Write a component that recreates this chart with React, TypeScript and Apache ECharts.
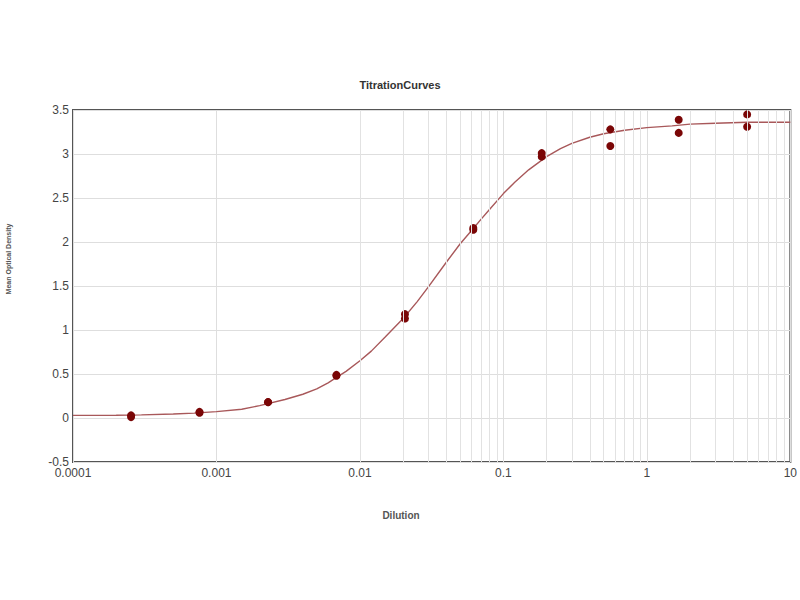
import React, { useEffect, useRef } from "react";
import * as echarts from "echarts";

// Measured replicate points (dilution vs mean optical density)
const dilutions = [0.000254, 0.000762, 0.00229, 0.00686, 0.0206, 0.0617, 0.185, 0.556, 1.667, 5];
const replicateA = [0.01, 0.06, 0.18, 0.48, 1.13, 2.14, 2.97, 3.09, 3.24, 3.31];
const replicateB = [0.03, 0.07, 0.18, 0.49, 1.18, 2.16, 3.01, 3.28, 3.39, 3.45];

// Fitted titration curve
const curveX = [
  0.0001, 0.0002, 0.0003, 0.0005, 0.0007, 0.001, 0.0015, 0.002, 0.003, 0.004, 0.005, 0.006, 0.007, 0.008,
  0.01, 0.012, 0.015, 0.02, 0.025, 0.03, 0.04, 0.05, 0.06, 0.07, 0.08, 0.1, 0.12, 0.15, 0.2, 0.25, 0.3,
  0.4, 0.5, 0.7, 1, 1.5, 2, 3, 5, 10,
];
const curveY = [
  0.03, 0.032, 0.035, 0.045, 0.055, 0.072, 0.1, 0.14, 0.21, 0.27, 0.33, 0.4, 0.47, 0.53,
  0.65, 0.76, 0.92, 1.13, 1.32, 1.49, 1.77, 1.98, 2.13, 2.26, 2.37, 2.55, 2.68, 2.82, 2.97, 3.06, 3.12,
  3.19, 3.23, 3.27, 3.3, 3.32, 3.34, 3.35, 3.36, 3.36,
];

const xTickLabels = ["0.0001", "0.001", "0.01", "0.1", "1", "10"];
const decades = [0.0001, 0.001, 0.01, 0.1, 1];
const minorMultipliers = [2, 3, 4, 5, 6, 7, 8, 9];

const titleText = "TitrationCurves";
const xName = "Dilution";
const yName = "Mean Optical Density";

export default function App() {
  const ref = useRef<HTMLDivElement>(null);
  useEffect(() => {
    if (!ref.current) return;
    const chart = echarts.init(ref.current, undefined, { renderer: "svg" });
    const minorTicks: number[] = [];
    decades.forEach((d) => minorMultipliers.forEach((m) => minorTicks.push(d * m)));
    const font = "'Liberation Sans', Arial, sans-serif";
    chart.setOption({
      animation: false,
      backgroundColor: "#ffffff",
      title: {
        text: titleText,
        left: "center",
        top: 79,
        padding: 0,
        textStyle: { fontSize: 11, fontWeight: "bold", color: "#333", fontFamily: font },
      },
      grid: {
        left: 73,
        right: 6,
        top: 110,
        bottom: 138,
        show: true,
        borderColor: "#555",
        borderWidth: 2,
        backgroundColor: "transparent",
      },
      xAxis: {
        type: "log",
        logBase: 10,
        min: 0.0001,
        max: 10,
        axisLine: { show: false },
        axisTick: { show: false },
        splitLine: { show: true, lineStyle: { color: "#dedede", width: 1 } },
        axisLabel: {
          color: "#444",
          fontSize: 12,
          fontFamily: font,
          margin: 5,
          showMinLabel: true,
          showMaxLabel: true,
          formatter: (v: number) => {
            const idx = Math.round(Math.log10(v)) + 4;
            return xTickLabels[idx] ?? "";
          },
        },
      },
      yAxis: {
        type: "value",
        min: -0.5,
        max: 3.5,
        interval: 0.5,
        axisLine: { show: false },
        axisTick: { show: false },
        splitLine: { show: true, lineStyle: { color: "#dedede", width: 1 } },
        axisLabel: { color: "#444", fontSize: 12, fontFamily: font, margin: 4 },
      },
      graphic: [
        {
          type: "text",
          x: 401,
          y: 515,
          style: {
            text: xName,
            fontSize: 10,
            fontWeight: "bold",
            fill: "#555",
            fontFamily: font,
            align: "center",
            verticalAlign: "middle",
          },
        },
        {
          type: "text",
          x: 8,
          y: 259,
          rotation: Math.PI / 2,
          style: {
            text: yName,
            fontSize: 7,
            fontWeight: "bold",
            fill: "#555",
            fontFamily: font,
            align: "center",
            verticalAlign: "middle",
          },
        },
      ],
      series: [
        {
          type: "scatter",
          name: "grid-minor",
          symbolSize: 0,
          silent: true,
          z: 1,
          data: curveX.map((x, i) => [x, curveY[i]]),
          markLine: {
            silent: true,
            symbol: ["none", "none"],
            label: { show: false },
            lineStyle: { color: "#e2e2e2", type: "solid", width: 1 },
            data: minorTicks.map((v) => ({ xAxis: v })),
          },
        },
        {
          type: "line",
          name: "fit",
          smooth: false,
          showSymbol: false,
          z: 3,
          lineStyle: { color: "#a8585a", width: 1.4 },
          data: curveX.map((x, i) => [x, curveY[i]]),
        },
        {
          type: "scatter",
          name: "replicate A",
          symbolSize: 8,
          z: 4,
          itemStyle: { color: "#7a0606", opacity: 1 },
          data: dilutions.map((x, i) => [x, replicateA[i]]),
        },
        {
          type: "scatter",
          name: "replicate B",
          symbolSize: 8,
          z: 4,
          itemStyle: { color: "#7a0606", opacity: 1 },
          data: dilutions.map((x, i) => [x, replicateB[i]]),
        },
      ],
    });
    return () => chart.dispose();
  }, []);
  return (
    <div
      ref={ref}
      style={{ position: "fixed", left: 0, top: 0, width: 800, height: 600, background: "#fff" }}
    />
  );
}
